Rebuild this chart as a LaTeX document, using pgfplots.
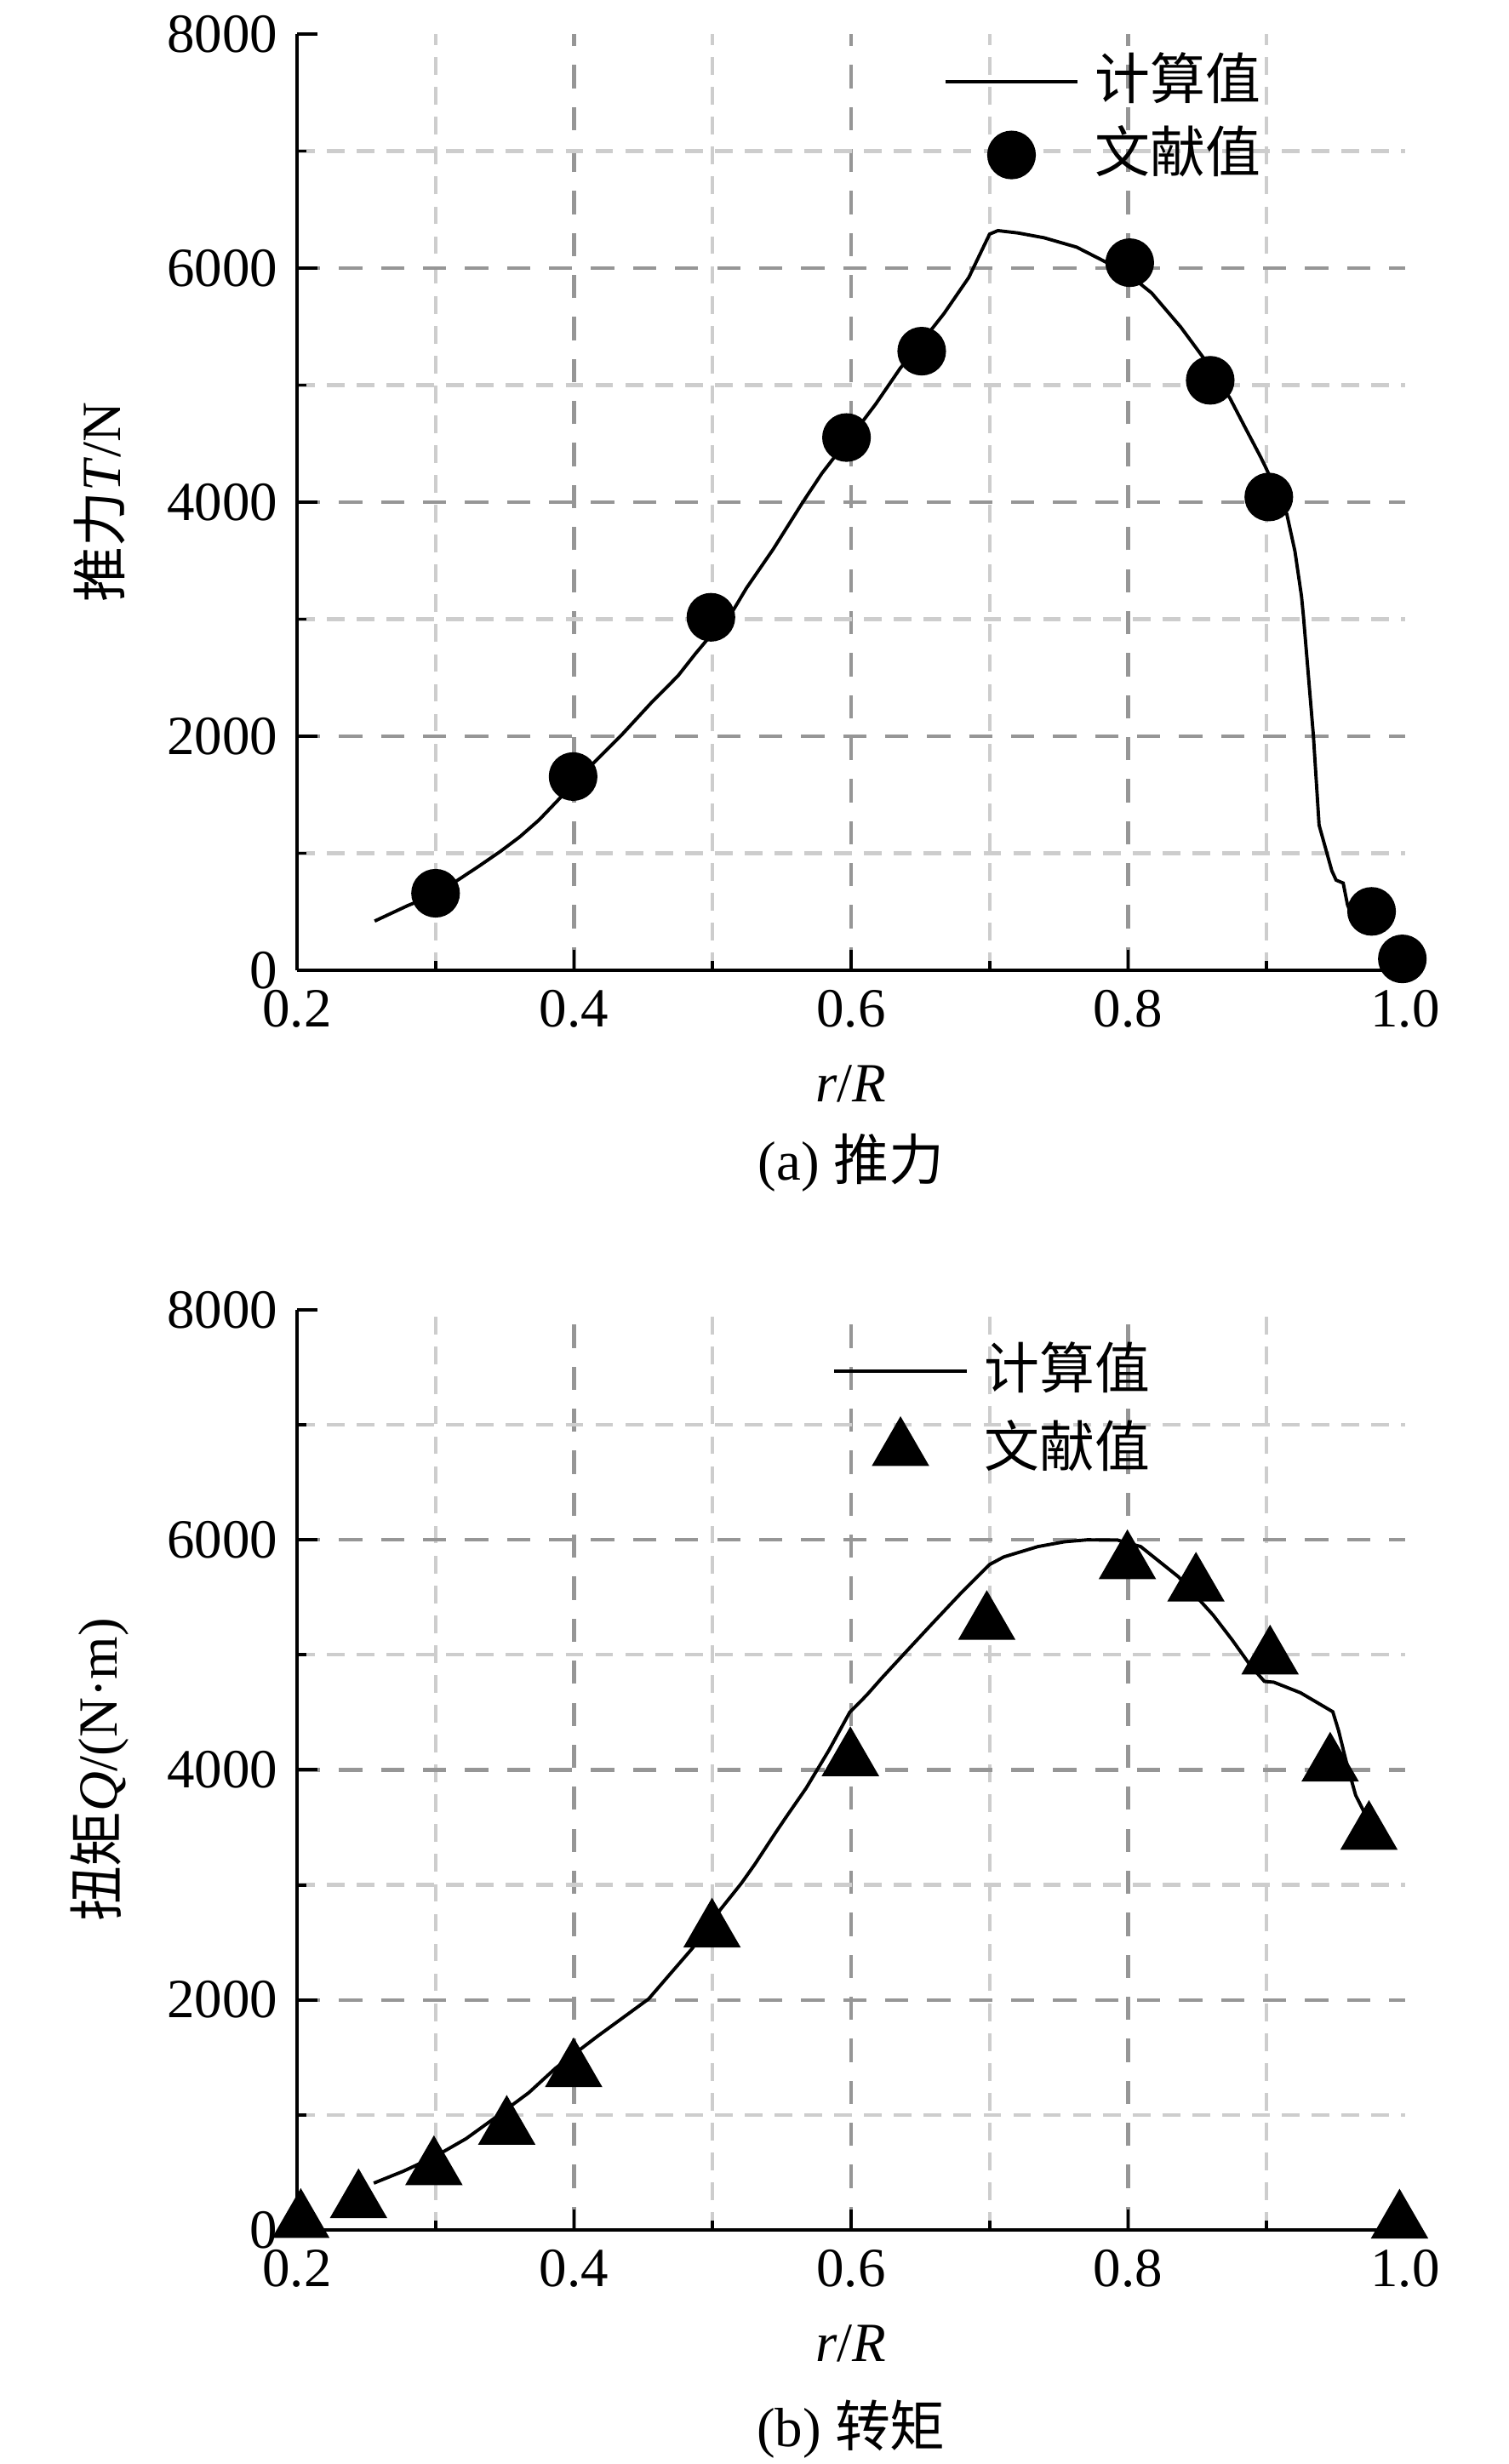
\documentclass[border=0pt]{standalone}
\usepackage{fontspec}
\setmainfont{Liberation Serif}
\newfontfamily\cjk{Noto Sans CJK SC}
\usepackage{pgfplots}
\pgfplotsset{compat=1.18}
\usepackage{pgfplotstable}
\definecolor{gridDark}{RGB}{150,150,150}
\definecolor{gridLight}{RGB}{205,205,205}

\pgfplotstableread{
x y
0.256 420
0.280 553
0.300 650
0.315 762
0.331 887
0.3465 1013
0.3606 1138
0.3747 1284
0.4135 1764
0.4346 2014
0.4557 2285
0.475 2515
0.4875 2703
0.500 2880
0.514 3058
0.5245 3266
0.5439 3600
0.565 3997
0.579 4247
0.588 4385
0.609 4700
0.6179 4840
0.6355 5144
0.653 5400
0.667 5610
0.685 5920
0.700 6290
0.706 6320
0.7205 6300
0.7393 6259
0.7628 6179
0.7845 6048
0.800 5950
0.817 5787
0.838 5496
0.8546 5230
0.8734 4891
0.884 4649
0.8958 4383
0.8993 4298
0.905 4150
0.9146 3898
0.9205 3578
0.9252 3196
0.9266 3026
0.9338 2003
0.9379 1240
0.9471 850
0.9502 770
0.9553 745
0.9584 560
0.962 450
}\thrustcalc

\pgfplotstableread{
x y
0.300 658
0.3993 1655
0.4988 3016
0.5967 4552
0.651 5290
0.8012 6046
0.8593 5041
0.9016 4044
0.9758 503
0.998 97
}\thrustlit

\pgfplotstableread{
x y
0.2554 407
0.2768 511
0.300 641
0.3221 794
0.3427 973
0.3674 1194
0.3866 1406
0.4167 1682
0.4538 2008
0.4689 2219
0.4853 2447
0.5059 2789
0.521 3017
0.5305 3179
0.5456 3456
0.5538 3602
0.5675 3840
0.584 4170
0.5990 4500
0.6113 4650
0.6223 4800
0.6415 5050
0.658 5264
0.680 5545
0.700 5785
0.7102 5851
0.7349 5941
0.7541 5983
0.7706 6000
0.7926 5997
0.8091 5941
0.8365 5677
0.8613 5347
0.875 5132
0.8887 4901
0.8984 4769
0.9052 4762
0.9245 4670
0.9478 4505
0.952 4340
0.9574 4076
0.9643 3779
0.9712 3614
0.976 3480
}\torquecalc

\pgfplotstableread{
x y
0.2027 75
0.2444 247
0.2988 534
0.3514 885
0.3997 1386
0.4996 2600
0.5995 4090
0.698 5274
0.7995 5802
0.849 5607
0.9025 4974
0.9459 4043
0.9739 3449
0.996 70
}\torquelit

\pgfplotsset{
  mylegimg/.style={legend image code/.code={\draw[mark repeat=2,mark phase=2,##1] plot coordinates {(0pt,0pt) (11.95pt,0pt) (23.9pt,0pt)};}},
  mypanel/.style={
    anchor=south west,
    scale only axis,
    width=200.5pt,
    xmin=0.2, xmax=1.0, ymin=0, ymax=8000,
    axis lines*=left,
    axis line style={line width=0.7pt, black},
    clip=false,
    tick align=inside,
    major tick length=3.7pt,
    minor tick length=1.7pt,
    every tick/.style={black, line width=0.6pt},
    xtick={0.2,0.4,0.6,0.8},
    xticklabels={0.2,0.4,0.6,0.8},
    extra x ticks={1.0},
    extra x tick labels={1.0},
    ytick={0,2000,4000,6000},
    yticklabels={0,2000,4000,6000},
    extra y ticks={8000},
    extra y tick labels={8000},
    extra tick style={grid=none},
    minor xtick={0.3,0.5,0.7,0.9},
    minor ytick={1000,3000,5000,7000},
    grid=both,
    major grid style={draw=gridDark, line width=0.65pt, dash pattern=on 4.2pt off 3.4pt},
    minor grid style={draw=gridLight, line width=0.65pt, dash pattern=on 3.2pt off 2.2pt},
    ticklabel style={font=\rmfamily},
    /pgf/number format/assume math mode=true,
    xlabel={\textit{r}/\textit{R}},
    xlabel style={at={(axis description cs:0.5,0)}, anchor=center, yshift=-20.6pt},
    ylabel style={at={(axis description cs:0,0.5)}, anchor=center, rotate=0, yshift=35.7pt},
    legend style={draw=none, fill=none, inner sep=0pt, outer sep=0pt,
      row sep=4.2pt, column sep=2.9pt, font=\cjk,
      nodes={inner sep=0pt, text height=7.6pt, text depth=1.4pt},
      cells={anchor=west}},
    mylegimg,
  }
}

\begin{document}
\begin{tikzpicture}
\path[use as bounding box] (0pt,0pt) rectangle (272.89pt,445.83pt);

\begin{axis}[mypanel,
  at={(53.75pt,270.27pt)},
  height=169.4pt,
  ylabel={{\cjk 推力}\textit{T}/N},
  legend style={at={(rel axis cs:0.5837,0.9753)}, anchor=north west},
]
\addplot[black, line width=0.6pt, mark=none] table[x=x,y=y]{\thrustcalc};
\addlegendentry{计算值}
\addplot[only marks, mark=*, mark size=4.1pt, mark options={fill=black, draw=black, line width=0.6pt, solid}, mylegimg]
  table[x=x,y=y]{\thrustlit};
\addlegendentry{文献值}
\node[anchor=center, font=\rmfamily] at (rel axis cs:0.5,0) [yshift=-34.8pt] {(a) {\cjk 推力}};
\end{axis}

\begin{axis}[mypanel,
  at={(53.75pt,42.35pt)},
  height=166.5pt,
  ylabel={{\cjk 扭矩}\textit{Q}/(N·m)},
  legend style={at={(rel axis cs:0.4835,0.960)}, anchor=north west},
]
\addplot[black, line width=0.6pt, mark=none] table[x=x,y=y]{\torquecalc};
\addlegendentry{计算值}
\addplot[only marks, mark=triangle*, mark size=5.4pt, mark options={fill=black, draw=black, line width=0.6pt, solid}, mylegimg]
  table[x=x,y=y]{\torquelit};
\addlegendentry{文献值}
\node[anchor=center, font=\rmfamily] at (rel axis cs:0.5,0) [yshift=-36pt] {(b) {\cjk 转矩}};
\end{axis}
\end{tikzpicture}
\end{document}
